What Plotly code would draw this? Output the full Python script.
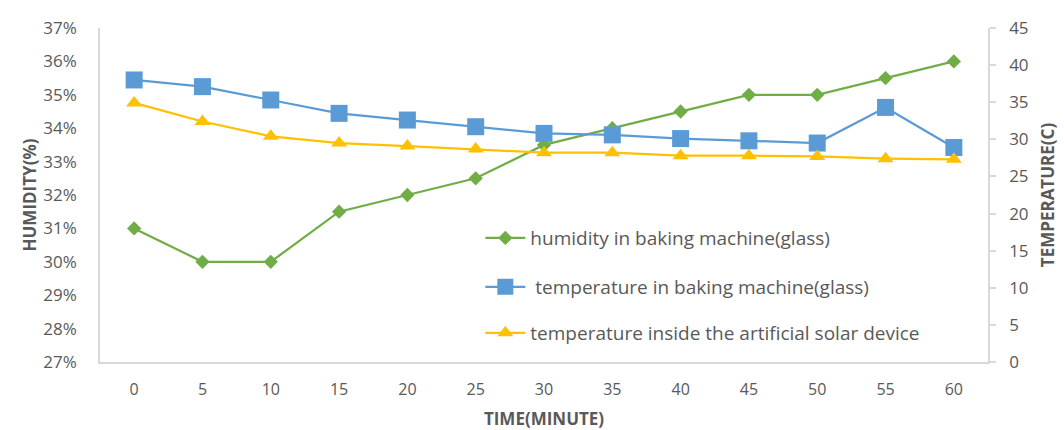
import plotly.graph_objects as go

minutes = [0, 5, 10, 15, 20, 25, 30, 35, 40, 45, 50, 55, 60]
humidity = [0.31, 0.30, 0.30, 0.315, 0.32, 0.325, 0.335, 0.34, 0.345, 0.35, 0.35, 0.355, 0.36]
temp_baking = [38.0, 37.1, 35.3, 33.5, 32.6, 31.7, 30.8, 30.6, 30.1, 29.8, 29.5, 34.3, 28.9]
temp_solar = [34.9, 32.4, 30.4, 29.5, 29.1, 28.7, 28.2, 28.2, 27.8, 27.8, 27.7, 27.4, 27.3]

names = ["humidity in baking machine(glass)",
         " temperature in baking machine(glass)",
         "temperature inside the artificial solar device"]

GREEN = "#70AD47"
BLUE = "#5B9BD5"
YELLOW = "#FFC000"
TEXT = "#595959"
AXIS = "#D9D9D9"
FONT = "Open Sans, Noto Sans, sans-serif"

fig = go.Figure()
fig.add_trace(go.Scatter(x=minutes, y=humidity, name=names[0], mode="lines+markers",
                         line=dict(color=GREEN, width=2.25),
                         marker=dict(symbol="diamond", size=11, color=GREEN),
                         showlegend=True, legend="legend"))
fig.add_trace(go.Scatter(x=minutes, y=temp_baking, name=names[1], mode="lines+markers",
                         yaxis="y2",
                         line=dict(color=BLUE, width=2.25),
                         marker=dict(symbol="square", size=17, color=BLUE),
                         showlegend=True, legend="legend2"))
fig.add_trace(go.Scatter(x=minutes, y=temp_solar, name=names[2], mode="lines+markers",
                         yaxis="y2",
                         line=dict(color=YELLOW, width=2.25),
                         marker=dict(symbol="triangle-up", size=14, color=YELLOW),
                         showlegend=True, legend="legend3"))

LX = 0.4283
leg = dict(xanchor="left", yanchor="middle", bgcolor="rgba(0,0,0,0)", itemwidth=40,
           font=dict(family=FONT, size=19, color=TEXT), visible=True)
fig.update_layout(
    width=1064, height=430,
    margin=dict(l=100, r=76, t=28, b=68),
    paper_bgcolor="white", plot_bgcolor="white",
    showlegend=True,
    font=dict(family=FONT, size=16, color=TEXT),
    legend=dict(x=LX, y=0.371, **leg),
    legend2=dict(x=LX, y=0.2246, **leg),
    legend3=dict(x=LX, y=0.0868, **leg),
    xaxis=dict(range=[-2.5, 62.5], tickmode="array", tickvals=minutes,
               ticktext=[str(m) for m in minutes], automargin=False,
               showline=True, linecolor=AXIS, linewidth=1.5, showgrid=False, zeroline=False,
               ticks="", ticklabelstandoff=12, tickfont=dict(family=FONT, size=16, color=TEXT),
               title=dict(text="<b>TIME(MINUTE)</b>", font=dict(family=FONT, size=17, color=TEXT),
                          standoff=16)),
    yaxis=dict(range=[0.27, 0.37], dtick=0.01, tickformat=".0%", automargin=False,
               showline=True, linecolor=AXIS, linewidth=1.5, showgrid=False, zeroline=False,
               ticks="", ticklabelstandoff=18, tickfont=dict(family=FONT, size=17, color=TEXT),
               title=dict(text="<b>HUMIDITY(%)</b>", font=dict(family=FONT, size=17, color=TEXT),
                          standoff=2)),
    yaxis2=dict(range=[0, 45], dtick=5, overlaying="y", side="right", automargin=False,
                showline=True, linecolor=AXIS, linewidth=1.5, showgrid=False, zeroline=False,
                ticks="outside", ticklen=6, tickcolor=AXIS, tickwidth=1.5,
                ticklabelstandoff=10, tickfont=dict(family=FONT, size=17, color=TEXT),
                title=dict(text="<b>TEMPERATURE(C)</b>", font=dict(family=FONT, size=17, color=TEXT),
                           standoff=14)),
)

fig.write_html("out.html")
